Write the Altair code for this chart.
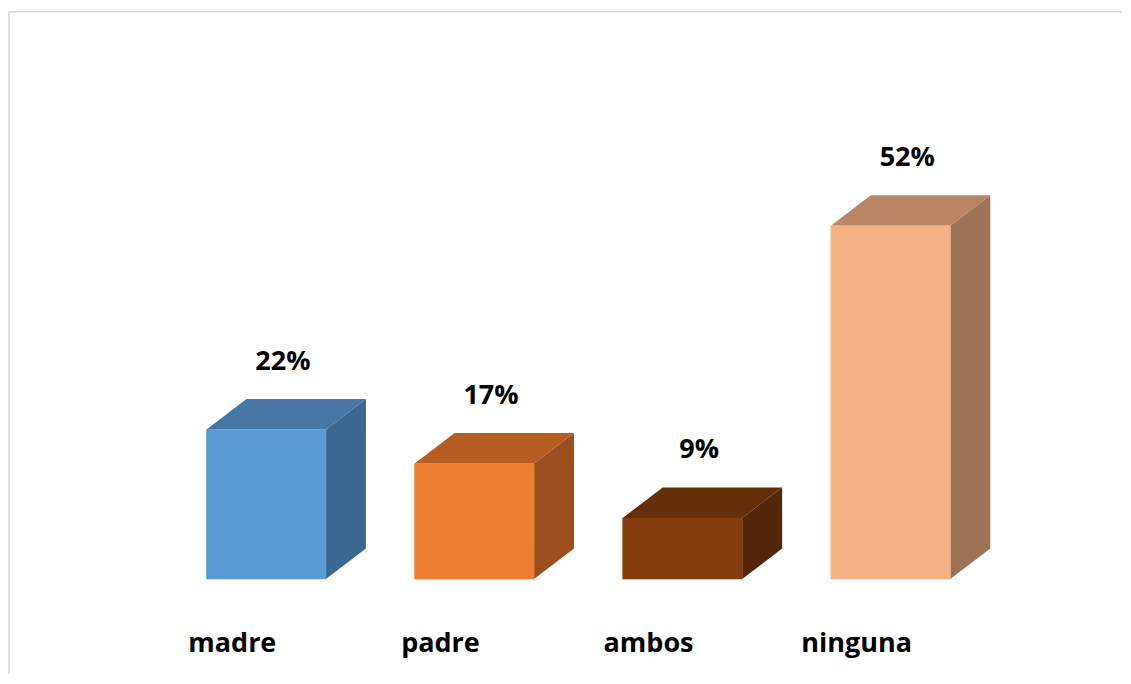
import altair as alt
import pandas as pd

# ---- data ----
categories = ["madre", "padre", "ambos", "ninguna"]
values = [22, 17, 9, 52]
labels = ["22%", "17%", "9%", "52%"]

# ---- styles ----
front_colors = ["#5B9BD5", "#ED7D31", "#843C0C", "#F4B183"]
top_colors = ["#4676A4", "#B55D23", "#642E09", "#B98565"]
side_colors = ["#3B6790", "#9B4F1E", "#532609", "#9C7354"]

W, H = 1114, 666
BAR_W = 0.574    # bar width in category units
DX = 0.192       # 3D depth, horizontal (category units)
DY = 4.49        # 3D depth, vertical (percentage units)
X_DOMAIN = [-1.236, 4.112]
Y_DOMAIN = [-13.93, 84.01]
FONT = "Open Sans"
FSIZE = 27

xs = alt.Scale(domain=X_DOMAIN, nice=False, zero=False)
ys = alt.Scale(domain=Y_DOMAIN, nice=False, zero=False)

front_rows, side_rows, top_rows, text_rows = [], [], [], []
for i, (c, v, lab) in enumerate(zip(categories, values, labels)):
    x0, x1 = i - BAR_W / 2, i + BAR_W / 2
    front_rows.append(dict(cat=c, x=x0, x2=x1, y=0, y2=v))
    side_rows += [dict(cat=c, x=x1, y=0, y2=v),
                  dict(cat=c, x=x1 + DX, y=DY, y2=v + DY)]
    top_rows += [dict(cat=c, y=v, x=x0, x2=x1),
                 dict(cat=c, y=v + DY, x=x0 + DX, x2=x1 + DX)]
    text_rows.append(dict(cat=c, label=lab, v=v, xc=i))

front = pd.DataFrame(front_rows)
side = pd.DataFrame(side_rows)
top = pd.DataFrame(top_rows)
txt = pd.DataFrame(text_rows)

def col(rng):
    return alt.Color("cat:N", scale=alt.Scale(domain=categories, range=rng), legend=None)

front_l = alt.Chart(front).mark_rect(strokeWidth=0.6).encode(
    x=alt.X("x:Q", scale=xs, axis=None), x2="x2:Q",
    y=alt.Y("y:Q", scale=ys, axis=None), y2="y2:Q",
    color=col(front_colors), stroke=alt.Stroke("cat:N", scale=alt.Scale(domain=categories, range=front_colors), legend=None))

side_l = alt.Chart(side).mark_area(strokeWidth=0.6).encode(
    x=alt.X("x:Q", scale=xs, axis=None),
    y=alt.Y("y:Q", scale=ys, axis=None), y2="y2:Q",
    detail="cat:N",
    color=col(side_colors))

top_l = alt.Chart(top).mark_area(orient="horizontal").encode(
    y=alt.Y("y:Q", scale=ys, axis=None),
    x=alt.X("x:Q", scale=xs, axis=None), x2="x2:Q",
    detail="cat:N",
    color=col(top_colors))

pct_l = alt.Chart(txt).transform_calculate(
    tx="datum.xc + 0.08", ty="datum.v + 8.8"
).mark_text(font=FONT, fontWeight="bold", fontSize=FSIZE, color="#000000",
            align="center", baseline="alphabetic").encode(
    x=alt.X("tx:Q", scale=xs, axis=None),
    y=alt.Y("ty:Q", scale=ys, axis=None),
    text="label:N")

cat_l = alt.Chart(txt).transform_calculate(
    tx="datum.xc - 0.163", ty="-10.69"
).mark_text(font=FONT, fontWeight="bold", fontSize=FSIZE, color="#000000",
            align="center", baseline="alphabetic").encode(
    x=alt.X("tx:Q", scale=xs, axis=None),
    y=alt.Y("ty:Q", scale=ys, axis=None),
    text="cat:N")

border_top = alt.Chart(pd.DataFrame({"a": [0]})).mark_rule(color="#D9D9D9", strokeWidth=1.5).encode(
    x=alt.value(0), x2=alt.value(W), y=alt.value(3.5))
border_left = alt.Chart(pd.DataFrame({"a": [0]})).mark_rule(color="#D9D9D9", strokeWidth=1.5).encode(
    x=alt.value(0), y=alt.value(3.5), y2=alt.value(H))

chart = alt.layer(
    border_top, border_left, side_l, top_l, front_l, pct_l, cat_l
).resolve_scale(color="independent", stroke="independent").properties(
    width=W, height=H, padding=0, background="#FFFFFF"
).configure_view(stroke=None)

chart.save("out.html", embed_options={"renderer": "svg", "actions": False})
